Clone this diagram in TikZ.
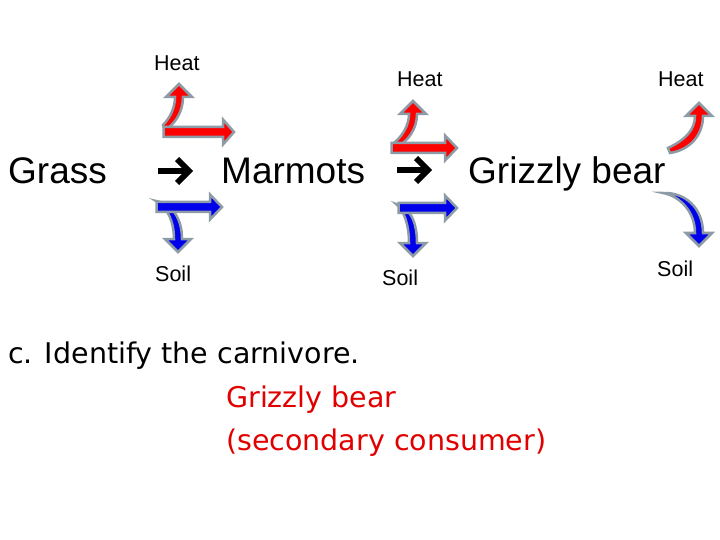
\documentclass[tikz,border=0pt]{standalone}
\usepackage{fontspec}
\setmainfont{Liberation Sans}
\newfontfamily\comicfont{DejaVu Sans}
\definecolor{arrowred}{RGB}{255,0,0}
\definecolor{arrowblue}{RGB}{0,0,235}
\definecolor{outlinegray}{RGB}{140,155,165}
\definecolor{textred}{RGB}{225,0,0}
\newcommand{\hblock}[5]{\draw[#1] (#2,{#5-5}) -- (#3,{#5-5}) -- (#3,{#5-12.5}) -- (#4,#5) -- (#3,{#5+12.5}) -- (#3,{#5+5}) -- (#2,{#5+5}) -- cycle;}
\begin{document}
\begin{tikzpicture}[x=1pt,y=-1pt,
  lbl/.style={inner sep=0pt, anchor=base west, font=\fontsize{21.5}{24}\selectfont},
  big/.style={inner sep=0pt, anchor=base west, font=\fontsize{37}{40}\selectfont},
  comic/.style={inner sep=0pt, anchor=base west, font=\comicfont\fontsize{28.5}{32}\selectfont},
  redblock/.style={fill=arrowred, draw=outlinegray, line width=2.5pt, line join=miter},
  blueblock/.style={fill=arrowblue, draw=outlinegray, line width=2.5pt, line join=miter},
  glypharrow/.style={draw=black, line width=6pt}]
\useasboundingbox (0,0) rectangle (720,540);
% main chain
\node[big] (grass) at (8,184) {Grass};
\node[big] (marmots) at (221,184) {Marmots};
\node[big] (bear) at (468,184) {Grizzly bear};
% black arrow glyphs
\draw[glypharrow] (158,171) -- (187,171);
\draw[glypharrow, line join=miter] (177,159) -- (189,171) -- (177,183);
\draw[glypharrow] (397,170) -- (426,170);
\draw[glypharrow, line join=miter] (416,158) -- (428,170) -- (416,182);
% labels
\node[lbl] (heat1) at (154,71) {Heat};
\node[lbl] (heat2) at (397,87) {Heat};
\node[lbl] (heat3) at (658,87) {Heat};
\node[lbl] (soil1) at (155,281) {Soil};
\node[lbl] (soil2) at (382,285) {Soil};
\node[lbl] (soil3) at (657,276) {Soil};
% group 1
\draw[redblock] (163,125) .. controls (170,118) and (175,108) .. (175,97) -- (166,97) -- (179,84) -- (192,97) -- (183,97) .. controls (183,112) and (175,124) .. (165,130) -- cycle;
\hblock{redblock}{163.5}{223}{234}{132}
\draw[blueblock] (156,201) .. controls (166,206) and (174,220) .. (174,239) -- (165,239) -- (178,252) -- (191,239) -- (182,239) .. controls (182,218) and (172,204) .. (156,201) -- cycle;
\hblock{blueblock}{156.5}{210}{222}{207}
% group 2
\draw[redblock] (395,142) .. controls (403,135) and (409,125) .. (409,114) -- (400,114) -- (413,101) -- (426,114) -- (417,114) .. controls (417,129) and (408,141) .. (397,147) -- cycle;
\hblock{redblock}{391.5}{445}{457}{148}
\draw[blueblock] (396,204) .. controls (404,210) and (409,225) .. (409,243) -- (400,243) -- (413,256) -- (426,243) -- (417,243) .. controls (417,222) and (410,207) .. (396,204) -- cycle;
\hblock{blueblock}{398.5}{445}{457}{208}
% group 3
\draw[redblock] (668,148) .. controls (685,140) and (695,130) .. (695,116) -- (686,116) -- (699,103) -- (712,116) -- (703,116) .. controls (703,135) and (690,150) .. (670,153) -- cycle;
\draw[blueblock] (663,193) .. controls (680,196) and (695,212) .. (695,233) -- (686,233) -- (699,246) -- (712,233) -- (703,233) .. controls (703,208) and (685,192) .. (663,193) -- cycle;
% question
\node[comic] (question) at (8,363) {c. Identify the carnivore.};
\node[comic, text=textred] (answer1) at (226,407) {Grizzly bear};
\node[comic, text=textred] (answer2) at (226,450) {(secondary consumer)};
\end{tikzpicture}
\end{document}
